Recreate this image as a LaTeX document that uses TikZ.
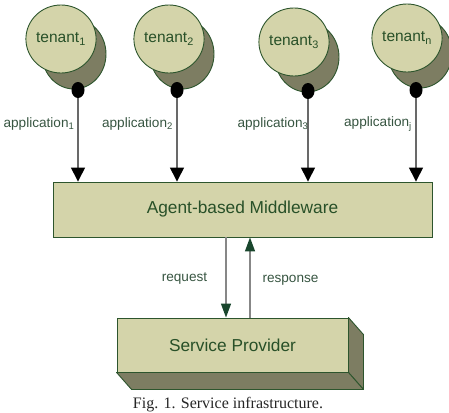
\documentclass[tikz,border=0pt]{standalone}
\usepackage{fontspec}
\setmainfont{Liberation Sans}
\newfontfamily\capfont{Liberation Serif}
\usetikzlibrary{shapes.geometric,arrows.meta,calc}
\definecolor{lightk}{RGB}{212,212,170}
\definecolor{darkk}{RGB}{125,125,98}
\definecolor{edgec}{RGB}{45,85,45}
\definecolor{txtc}{RGB}{40,80,40}
\definecolor{labc}{RGB}{55,85,65}
\definecolor{linec}{RGB}{105,105,105}
\definecolor{headc}{RGB}{25,70,45}
\tikzset{
  frontell/.style={ellipse, draw=edgec, line width=0.9pt, fill=lightk, minimum width=62pt, minimum height=68pt, inner sep=0pt, text=txtc, font=\fontsize{15.5}{18}\selectfont},
  backell/.style={ellipse, draw=edgec, line width=0.9pt, fill=darkk, minimum width=64pt, minimum height=70pt, inner sep=0pt},
  blackdot/.style={ellipse, fill=black, minimum width=13pt, minimum height=16pt, inner sep=0pt},
  appline/.style={draw=linec, line width=1.4pt, -{Triangle[width=14pt,length=14pt,fill=black,color=black]}},
  rrline/.style={draw=linec!80, line width=1.4pt, -{Triangle[width=10pt,length=14pt,color=headc]}},
  boxnode/.style={rectangle, draw=edgec, line width=0.9pt, fill=lightk, text=txtc, inner sep=0pt, font=\fontsize{17.3}{20}\selectfont},
  lab/.style={text=labc, inner sep=0pt, font=\fontsize{13.6}{16}\selectfont}
}
\begin{document}
\begin{tikzpicture}[x=1pt,y=-1pt]
\useasboundingbox (0,0) rectangle (449,412);
% tenants
\node[backell] (tb1) at (74,54) {};
\node[frontell] (t1) at (61,39) {tenant\textsubscript{1}};
\node[blackdot] (d1) at (78,90) {};
\node[backell] (tb2) at (182,54) {};
\node[frontell] (t2) at (169,39) {tenant\textsubscript{2}};
\node[blackdot] (d2) at (177,90) {};
\node[backell] (tb3) at (307,57) {};
\node[frontell] (t3) at (294,42) {tenant\textsubscript{3}};
\node[blackdot] (d3) at (308,91) {};
\node[backell] (tb4) at (420,53) {};
\node[frontell] (t4) at (407,38) {tenant\textsubscript{n}};
\node[blackdot] (d4) at (416,90) {};
% middleware
\node[boxnode, minimum width=379pt, minimum height=55pt] (mw) at (242.5,209.5) {Agent-based Middleware};
% application arrows
\draw[appline] (d1) -- (d1 |- mw.north);
\draw[appline] (d2) -- (d2 |- mw.north);
\draw[appline] (d3) -- (d3 |- mw.north);
\draw[appline] (d4) -- (d4 |- mw.north);
\node[lab] (a1) at (39,124) {application\textsubscript{1}};
\node[lab] (a2) at (137.5,124) {application\textsubscript{2}};
\node[lab] (a3) at (273,124) {application\textsubscript{3}};
\node[lab] (a4) at (378,124) {application\textsubscript{j}};
% service provider 3D box
\node[boxnode, minimum width=231pt, minimum height=54pt] (sp) at (232.5,345) {Service Provider};
\fill[darkk, draw=edgec, line width=0.9pt, line join=round] (sp.north east) -- ++(15,17) -- ($(sp.south east)+(15,17)$) -- (sp.south east) -- cycle;
\fill[darkk, draw=edgec, line width=0.9pt, line join=round] (sp.south west) -- (sp.south east) -- ++(15,17) -- ($(sp.south west)+(15,17)$) -- cycle;
% request / response
\coordinate (rq) at (226,0);
\coordinate (rs) at (250,0);
\draw[rrline] (rq |- mw.south) -- (rq |- sp.north);
\draw[rrline] (rs |- sp.north) -- (rs |- mw.south);
\node[lab] (lreq) at (184.5,279) {request};
\node[lab] (lres) at (290.5,280) {response};
% caption
\node[anchor=base, inner sep=0pt, font=\capfont\fontsize{16}{19}\selectfont, text=black!85] (cap) at (228,408) {Fig. 1. Service infrastructure.};
\end{tikzpicture}
\end{document}
